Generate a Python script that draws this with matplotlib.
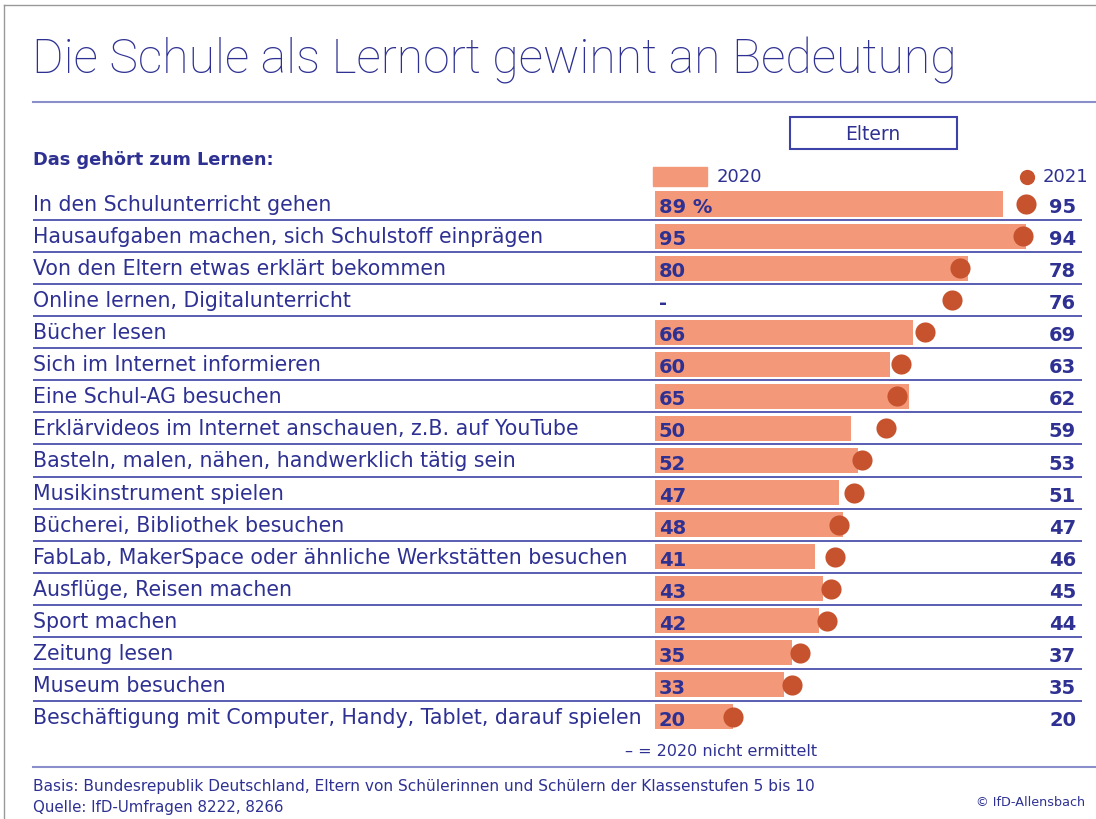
import matplotlib
matplotlib.use("Agg")
import matplotlib.pyplot as plt
from matplotlib.patches import Rectangle

plt.rcParams['font.family'] = ['DejaVu Sans']

categories = [
    "In den Schulunterricht gehen",
    "Hausaufgaben machen, sich Schulstoff einprägen",
    "Von den Eltern etwas erklärt bekommen",
    "Online lernen, Digitalunterricht",
    "Bücher lesen",
    "Sich im Internet informieren",
    "Eine Schul-AG besuchen",
    "Erklärvideos im Internet anschauen, z.B. auf YouTube",
    "Basteln, malen, nähen, handwerklich tätig sein",
    "Musikinstrument spielen",
    "Bücherei, Bibliothek besuchen",
    "FabLab, MakerSpace oder ähnliche Werkstätten besuchen",
    "Ausflüge, Reisen machen",
    "Sport machen",
    "Zeitung lesen",
    "Museum besuchen",
    "Beschäftigung mit Computer, Handy, Tablet, darauf spielen",
]
values_2020 = [89, 95, 80, None, 66, 60, 65, 50, 52, 47, 48, 41, 43, 42, 35, 33, 20]
values_2021 = [95, 94, 78, 76, 69, 63, 62, 59, 53, 51, 47, 46, 45, 44, 37, 35, 20]

W, H = 1096, 820
BLUE = "#2e3192"
LINE = "#3d42a8"
LIGHT = "#8a8ecb"
BAR = "#f4987a"
DOT = "#c6532e"

def fx(px):
    return px / W

def fy(py):
    return 1 - py / H

fig = plt.figure(figsize=(W / 100, H / 100), dpi=100)

# frame
fig.add_artist(plt.Line2D([fx(4), fx(4)], [0, fy(6)], color="#999999", lw=1))
fig.add_artist(plt.Line2D([fx(4), 1], [fy(6), fy(6)], color="#999999", lw=1))

# title + rule
fig.text(fx(32), fy(61), "Die Schule als Lernort gewinnt an Bedeutung",
         fontsize=34.7, color=BLUE, va="center", ha="left", family="Roboto",
         fontweight="light")
fig.add_artist(plt.Line2D([fx(33), 1], [fy(103), fy(103)], color=LIGHT, lw=1.5))

fig.text(fx(33), fy(160), "Das gehört zum Lernen:", fontsize=12.8,
         color=BLUE, fontweight="bold", va="center")

# main axes
row = 32.06
y0 = 205
n = len(categories)
scale = 3.91  # px per percent
x_zero = 655
ax_left, ax_right = 33, 1082
top_px = y0 - 0.5 * row
bot_px = y0 + (n - 0.5) * row
ax = fig.add_axes([fx(ax_left), fy(bot_px), (ax_right - ax_left) / W, (bot_px - top_px) / H])
xmin = -(x_zero - ax_left) / scale
xmax = (ax_right - x_zero) / scale
ax.set_xlim(xmin, xmax)
ax.set_ylim(n - 0.5, -0.5)
ax.axis("off")

for i, (cat, v0, v1) in enumerate(zip(categories, values_2020, values_2021)):
    if v0 is not None:
        ax.barh(i, v0, height=0.78, color=BAR, zorder=1)
        lab = f"{v0} %" if i == 0 else str(v0)
    else:
        lab = "-"
    ax.text(1, i + 0.08, lab, fontsize=14, fontweight="bold", color=BLUE,
            va="center", ha="left", zorder=3)
    ax.scatter(v1, i, s=210, color=DOT, zorder=2, linewidths=0)
    ax.text((1076 - x_zero) / scale, i + 0.08, str(v1), fontsize=14, fontweight="bold",
            color=BLUE, va="center", ha="right", zorder=3)
    ax.text(xmin, i, cat, fontsize=14.8, color=BLUE, va="center", ha="left")
    if i < n - 1:
        ax.plot([xmin, xmax], [i + 0.5, i + 0.5], color=LINE, lw=1.2, zorder=0)

# legend
fig.add_artist(Rectangle((fx(653), fy(187)), (707 - 653) / W, 19 / H, color=BAR))
fig.text(fx(717), fy(177), "2020", fontsize=13, color=BLUE, va="center")
fig.add_artist(plt.Line2D([fx(1027)], [fy(178)], marker="o", markersize=11,
                          color=DOT, markeredgewidth=0))
fig.text(fx(1043), fy(177), "2021", fontsize=13, color=BLUE, va="center")

# Eltern box
fig.add_artist(Rectangle((fx(790), fy(150)), (957 - 790) / W, 32 / H,
                         fill=False, edgecolor=LINE, lw=1.5))
fig.text(fx(873), fy(134), "Eltern", fontsize=13.5, color=BLUE, va="center", ha="center")

# footnotes
fig.text(fx(625), fy(752), "– = 2020 nicht ermittelt", fontsize=11.5, color=BLUE, va="center")
fig.add_artist(plt.Line2D([fx(33), 1], [fy(768), fy(768)], color=LIGHT, lw=1.5))
fig.text(fx(33), fy(787), "Basis: Bundesrepublik Deutschland, Eltern von Schülerinnen und Schülern der Klassenstufen 5 bis 10",
         fontsize=11.1, color=BLUE, va="center")
fig.text(fx(33), fy(808), "Quelle: IfD-Umfragen 8222, 8266", fontsize=10.8, color=BLUE, va="center")
fig.text(fx(1085), fy(803), "© IfD-Allensbach", fontsize=9.2, color=BLUE, va="center", ha="right")

fig.savefig("out.png", dpi=100)
